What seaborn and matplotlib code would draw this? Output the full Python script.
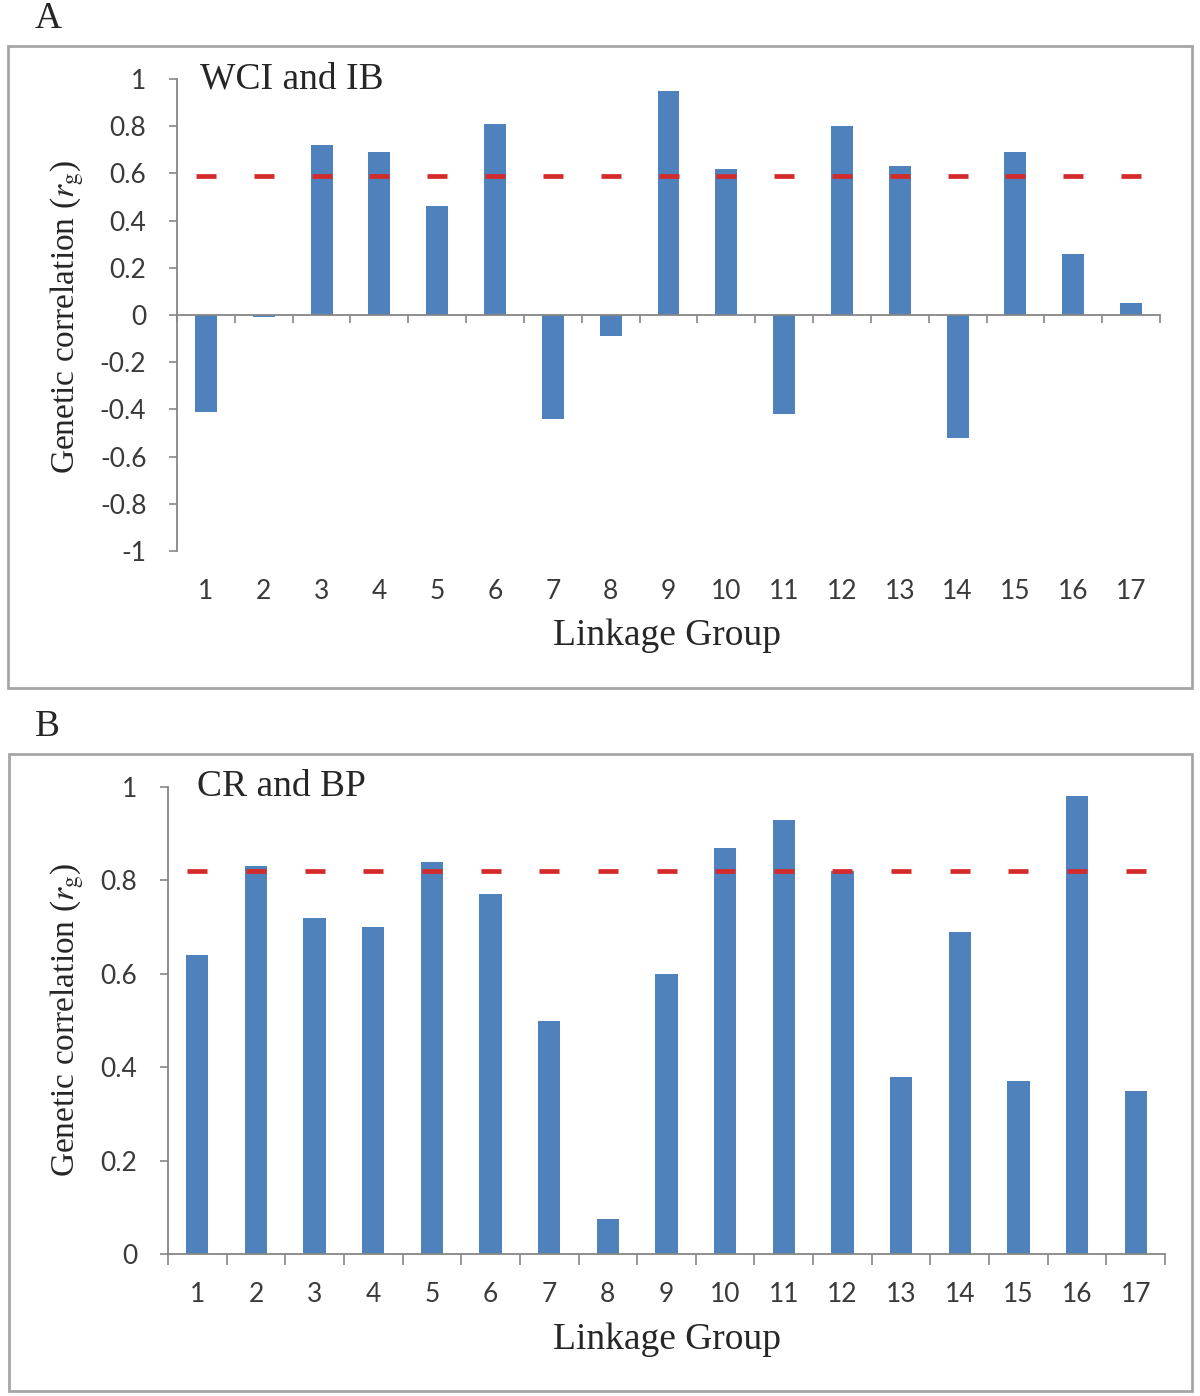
import numpy as np
import matplotlib
matplotlib.use("Agg")
import matplotlib.pyplot as plt
import seaborn as sns
from matplotlib.patches import Rectangle
from matplotlib.ticker import FixedLocator

# data
groups = [str(i) for i in range(1, 18)]
wci_ib = [-0.41, -0.01, 0.72, 0.69, 0.46, 0.81, -0.44, -0.09, 0.95,
          0.62, -0.42, 0.80, 0.63, -0.52, 0.69, 0.26, 0.05]
wci_ib_threshold = 0.59
cr_bp = [0.64, 0.83, 0.72, 0.70, 0.84, 0.77, 0.50, 0.075, 0.60,
         0.87, 0.93, 0.82, 0.38, 0.69, 0.37, 0.98, 0.35]
cr_bp_threshold = 0.82
yticks_a = [-1, -0.8, -0.6, -0.4, -0.2, 0, 0.2, 0.4, 0.6, 0.8, 1]
yticks_b = [0, 0.2, 0.4, 0.6, 0.8, 1]

bar_color = "#4F81BD"
line_color = "#D42A2A"
axis_color = "#868686"
W, H = 1200, 1396

sns.set_style("white")
plt.rcParams["font.family"] = ["Lato", "DejaVu Sans"]
plt.rcParams["mathtext.fontset"] = "stix"
serif = ["Liberation Serif", "DejaVu Serif"]

fig = plt.figure(figsize=(W / 100, H / 100), dpi=100)


def fx(x):
    return x / W


def fy(y):
    return 1 - y / H


def panel(ax, values, threshold, yticks, ylim, letter, box, tick_pad, tick_len):
    sns.barplot(x=groups, y=values, ax=ax, color=bar_color, width=0.38,
                saturation=1, edgecolor="none")
    # threshold drawn as short red dashes centred on each group
    ax.plot(np.arange(len(groups)), [threshold] * len(groups), linestyle="none",
            marker="_", markersize=15, markeredgewidth=3.4, color=line_color)
    ax.set_ylim(*ylim)
    ax.set_xlim(-0.5, len(groups) - 0.5)
    ax.set_yticks(yticks)
    ax.set_yticklabels([f"{t:g}" for t in yticks], fontsize=19, color="#3a3a3a")
    ax.tick_params(axis="y", direction="out", length=6, width=1.2,
                   color=axis_color, pad=16, left=True)
    ax.tick_params(axis="x", which="major", length=0, pad=tick_pad,
                   labelsize=19, labelcolor="#3a3a3a")
    ax.xaxis.set_minor_locator(FixedLocator(np.arange(-0.5, len(groups), 1.0)))
    ax.tick_params(axis="x", which="minor", direction="out", length=tick_len,
                   width=1.2, color=axis_color, bottom=True)
    for s in ["top", "right"]:
        ax.spines[s].set_visible(False)
    for s in ["left", "bottom"]:
        ax.spines[s].set_color(axis_color)
        ax.spines[s].set_linewidth(1.3)
    ax.set_xlabel("")
    ax.set_ylabel("")
    x0, y0, x1, y1 = box
    fig.patches.append(Rectangle((fx(x0), fy(y1)), fx(x1 - x0), (y1 - y0) / H,
                                 transform=fig.transFigure, fill=False,
                                 edgecolor="#A6A6A6", linewidth=2))
    fig.text(fx(35), fy(y0 - 27), letter, fontsize=27, family=serif, va="center")
    return ax


# panel A
ax_a = fig.add_axes([fx(177), fy(551), (1160 - 177) / W, (551 - 79) / H])
panel(ax_a, wci_ib, wci_ib_threshold, yticks_a, (-1, 1), "A",
      (8, 46, 1192, 688), 190, 6)
ax_a.spines["bottom"].set_position(("data", 0))
fig.text(fx(200), fy(79), "WCI and IB", fontsize=27, family=serif, va="center")
fig.text(fx(667), fy(636), "Linkage Group", fontsize=27, family=serif,
         ha="center", va="center")
fig.text(fx(67), fy(317), r"Genetic correlation ($r_{\rm g}$)", fontsize=24,
         family=serif, rotation=90, ha="center", va="center")

# panel B
ax_b = fig.add_axes([fx(168), fy(1254), (1165 - 168) / W, (1254 - 787) / H])
panel(ax_b, cr_bp, cr_bp_threshold, yticks_b, (0, 1), "B",
      (9, 754, 1192, 1391), 20, 8)
fig.text(fx(197), fy(787), "CR and BP", fontsize=27, family=serif, va="center")
fig.text(fx(667), fy(1340), "Linkage Group", fontsize=27, family=serif,
         ha="center", va="center")
fig.text(fx(67), fy(1020), r"Genetic correlation ($r_{\rm g}$)", fontsize=24,
         family=serif, rotation=90, ha="center", va="center")

fig.savefig("out.png", dpi=100, facecolor="white")
